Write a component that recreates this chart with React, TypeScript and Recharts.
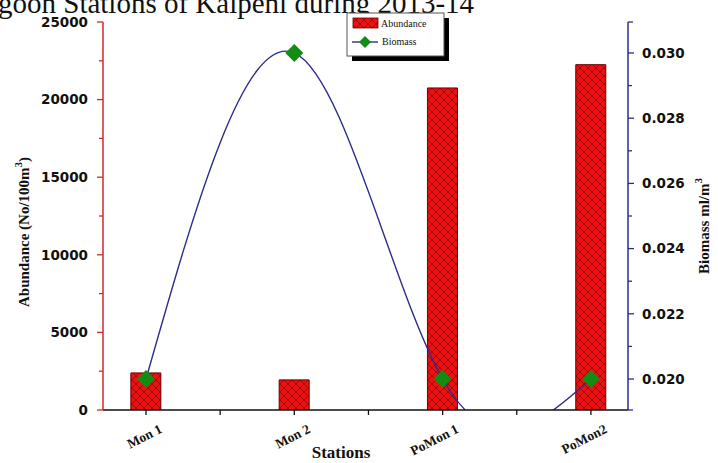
import { ComposedChart, Bar, Line, XAxis, YAxis } from "recharts";

// stations along the x axis
const categories = ["Mon 1", "Mon 2", "PoMon 1", "PoMon2"];
// abundance (No/100m3), left axis
const abundance = [2390, 1940, 20750, 22250];
// biomass (ml/m3), right axis
const biomass = [0.02, 0.03, 0.02, 0.02];

const xTicks = [0, 0.5, 1, 1.5, 2, 2.5, 3];
const leftTicks = [0, 2500, 5000, 7500, 10000, 12500, 15000, 17500, 20000, 22500, 25000];
const rightTicks = [0.01905, 0.02, 0.021, 0.022, 0.023, 0.024, 0.025, 0.026, 0.027, 0.028, 0.029, 0.03, 0.03095];

const RED = "#d0282a";
const NAVY = "#2c2c8c";
const GREEN = "#148c14";
const TICK_FONT = "'DejaVu Sans', Verdana, sans-serif";
const SERIF = "'Liberation Serif', 'Times New Roman', serif";

const rows = categories.map((name, i) => ({
  x: i,
  name,
  abundance: abundance[i],
  biomass: biomass[i],
}));

function XTick(props: any) {
  const { x, y, payload } = props;
  const v = payload.value;
  const major = Number.isInteger(v);
  return (
    <g>
      <line x1={x} x2={x} y1={y} y2={y + 5} stroke="#111" strokeWidth={1.3} />
      {major && (
        <text
          transform={`translate(${x + 17},${y + 22}) rotate(-27)`}
          textAnchor="end"
          fontFamily={SERIF}
          fontWeight="bold"
          fontSize={13.5}
          fill="#111"
        >
          {categories[v]}
        </text>
      )}
    </g>
  );
}

function LeftTick(props: any) {
  const { x, y, payload } = props;
  const v = payload.value;
  const major = v % 5000 === 0;
  return (
    <g>
      <line x1={x} x2={x - (major ? 6 : 4)} y1={y} y2={y} stroke={RED} strokeWidth={1.3} />
      {major && (
        <text x={x - 15} y={y} dy="0.36em" textAnchor="end" fontFamily={TICK_FONT} fontWeight="bold" fontSize={13.5} fill="#111">
          {v}
        </text>
      )}
    </g>
  );
}

function RightTick(props: any) {
  const { x, y, payload } = props;
  const v = payload.value;
  const k = Math.round(v * 100000);
  const onGrid = k % 100 === 0;
  const major = onGrid && (k / 100) % 2 === 0;
  return (
    <g>
      <line x1={x} x2={x + (major ? 6 : onGrid ? 4 : 5)} y1={y} y2={y} stroke={NAVY} strokeWidth={1.3} />
      {major && (
        <text x={x + 14} y={y} dy="0.36em" textAnchor="start" fontFamily={TICK_FONT} fontWeight="bold" fontSize={13.5} fill="#111">
          {v.toFixed(3)}
        </text>
      )}
    </g>
  );
}

function Diamond(props: any) {
  const { cx, cy, index } = props;
  const r = 9;
  return (
    <polygon
      key={`dm-${index}`}
      points={`${cx},${cy - r} ${cx + r},${cy} ${cx},${cy + r} ${cx - r},${cy}`}
      fill={GREEN}
    />
  );
}

export default function App() {
  return (
    <div style={{ position: "absolute", left: 0, top: 0, width: 718, height: 463, background: "#fff", overflow: "hidden" }}>
      <svg width={0} height={0} style={{ position: "absolute" }}>
        <defs>
          <pattern id="hatch" width={8} height={8} patternUnits="userSpaceOnUse">
            <rect width={8} height={8} fill="#ee1010" />
            <path d="M0,0 L8,8 M8,0 L0,8" stroke="#8a0a0a" strokeWidth={0.8} />
          </pattern>
        </defs>
      </svg>

      <svg width={718} height={463} style={{ position: "absolute", left: 0, top: 0, pointerEvents: "none" }}>
        <text x={-2} y={13} fontFamily={SERIF} fontSize={29} fill="#111">
          goon Stations of Kalpeni during 2013-14
        </text>
      </svg>

      <div style={{ position: "absolute", left: 0, top: 0 }}>
        <ComposedChart width={718} height={463} data={rows} margin={{ top: 22, right: 30, bottom: 13, left: 43 }}>
          <XAxis
            dataKey="x"
            type="number"
            domain={[-0.29, 3.25]}
            ticks={xTicks}
            interval={0}
            height={40}
            axisLine={{ stroke: "#111", strokeWidth: 1.5 }}
            tickLine={false}
            tickSize={0}
            tickMargin={0}
            tick={<XTick />}
            allowDataOverflow
          />
          <YAxis
            yAxisId="left"
            domain={[0, 25000]}
            ticks={leftTicks}
            interval={0}
            width={60}
            axisLine={{ stroke: RED, strokeWidth: 1.5 }}
            tickLine={false}
            tickSize={0}
            tickMargin={0}
            tick={<LeftTick />}
            allowDataOverflow
          />
          <YAxis
            yAxisId="right"
            orientation="right"
            domain={[0.01905, 0.03095]}
            ticks={rightTicks}
            interval={0}
            width={60}
            axisLine={{ stroke: NAVY, strokeWidth: 1.5 }}
            tickLine={false}
            tickSize={0}
            tickMargin={0}
            tick={<RightTick />}
            allowDataOverflow
          />
          <Bar
            yAxisId="left"
            dataKey="abundance"
            barSize={30}
            fill="url(#hatch)"
            stroke="#6a0000"
            strokeWidth={1}
            isAnimationActive={false}
          />
          <Line
            yAxisId="right"
            type="natural"
            dataKey="biomass"
            stroke={NAVY}
            strokeWidth={1.4}
            dot={Diamond}
            activeDot={false}
            isAnimationActive={false}
          />
        </ComposedChart>
      </div>

      <svg width={718} height={463} style={{ position: "absolute", left: 0, top: 0, pointerEvents: "none" }}>
        <text transform="translate(29,232) rotate(-90)" textAnchor="middle" fontFamily={SERIF} fontWeight="bold" fontSize={15} fill="#111">
          Abundance (No/100m<tspan dy={-7} fontSize={11}>3</tspan><tspan dy={7}>)</tspan>
        </text>
        <text transform="translate(709,226) rotate(-90)" textAnchor="middle" fontFamily={SERIF} fontWeight="bold" fontSize={15} fill="#111">
          Biomass ml/m<tspan dy={-7} fontSize={11}>3</tspan>
        </text>
        <text x={341} y={458} textAnchor="middle" fontFamily={SERIF} fontWeight="bold" fontSize={17} fill="#111">
          Stations
        </text>

        <rect x={352} y={18} width={97} height={43} fill="#000" />
        <rect x={347} y={13} width={97} height={43} fill="#fff" stroke="#555" strokeWidth={1} />
        <rect x={353} y={18} width={25} height={10} fill="url(#hatch)" stroke="#6a0000" strokeWidth={0.8} />
        <text x={381} y={27} fontFamily={SERIF} fontSize={10} fill="#111">Abundance</text>
        <line x1={352} x2={378} y1={42} y2={42} stroke={NAVY} strokeWidth={1.4} />
        <polygon points="365,36 371,42 365,48 359,42" fill={GREEN} />
        <text x={382} y={45} fontFamily={SERIF} fontSize={10} fill="#111">Biomass</text>
      </svg>
    </div>
  );
}
